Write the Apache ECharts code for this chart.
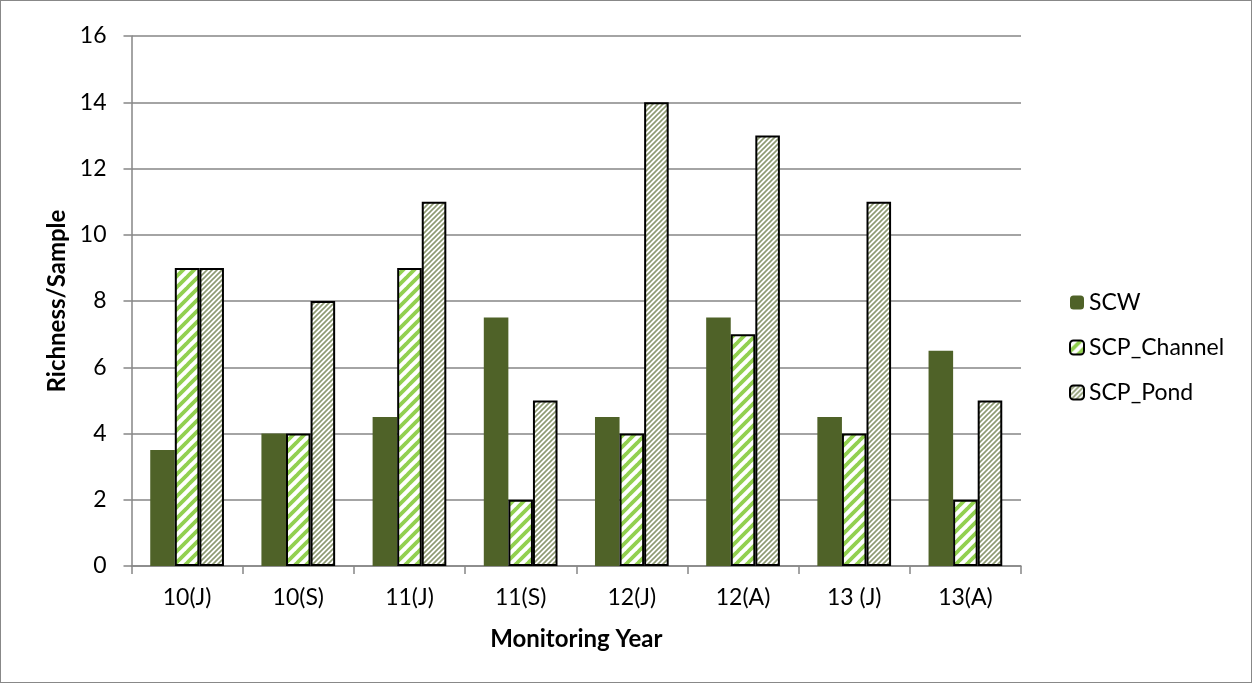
<!DOCTYPE html>
<html>
<head>
<meta charset="utf-8">
<script src="https://cdn.jsdelivr.net/npm/echarts@6/dist/echarts.min.js"></script>
<style>
  html, body { margin: 0; padding: 0; background: #fff; }
  #chart { width: 1250px; height: 681px; border: 1px solid #888; }
</style>
</head>
<body>
<div id="chart"></div>
<script>
// Monitoring events and species richness per sample for each site
const categories = ['10(J)', '10(S)', '11(J)', '11(S)', '12(J)', '12(A)', '13 (J)', '13(A)'];
const scw = [3.5, 4, 4.5, 7.5, 4.5, 7.5, 4.5, 6.5];
const scpChannel = [9, 4, 9, 2, 4, 7, 4, 2];
const scpPond = [9, 8, 11, 5, 14, 13, 11, 5];
const yTicks = { min: 0, max: 16, interval: 2 };

// Diagonal "/" stripe tile for hatched bar fills
function stripeTile(size, lineWidth, color) {
  const c = document.createElement('canvas');
  c.width = size; c.height = size;
  const ctx = c.getContext('2d');
  ctx.fillStyle = '#fff';
  ctx.fillRect(0, 0, size, size);
  ctx.strokeStyle = color;
  ctx.lineWidth = lineWidth;
  ctx.beginPath();
  for (let k = -1; k <= 1; k++) {
    ctx.moveTo(k * size - 1, size + 1);
    ctx.lineTo(k * size + size + 1, -1);
  }
  ctx.stroke();
  return c;
}

const channelFill = { image: stripeTile(11, 3.8, '#92D050'), repeat: 'repeat' };
const pondFill = { image: stripeTile(5, 1.6, '#8E9B72'), repeat: 'repeat' };

const font = 'Lato, "Open Sans", sans-serif';
const chart = echarts.init(document.getElementById('chart'), null, { renderer: 'canvas' });

chart.setOption({
  animation: false,
  textStyle: { fontFamily: font, color: '#000' },
  grid: { left: 130.5, right: 230, top: 35, bottom: 116 },
  legend: {
    orient: 'vertical',
    left: 1063,
    top: 285,
    itemWidth: 14,
    itemHeight: 14,
    itemGap: 22,
    textStyle: { fontSize: 23, fontFamily: font, color: '#000' },
    data: ['SCW', 'SCP_Channel', 'SCP_Pond']
  },
  xAxis: {
    type: 'category',
    data: categories,
    name: 'Monitoring Year',
    nameLocation: 'middle',
    nameGap: 61,
    nameTextStyle: { fontSize: 24, fontWeight: 'bold', fontFamily: font, color: '#000' },
    axisLine: { lineStyle: { color: '#868686', width: 1.5 } },
    axisTick: { show: true, length: 8, lineStyle: { color: '#868686', width: 1.5 } },
    axisLabel: { fontSize: 23, margin: 20, color: '#000', fontFamily: font }
  },
  yAxis: {
    type: 'value',
    min: yTicks.min,
    max: yTicks.max,
    interval: yTicks.interval,
    name: 'Richness/Sample',
    nameLocation: 'middle',
    nameGap: 62,
    nameTextStyle: { fontSize: 24, fontWeight: 'bold', fontFamily: font, color: '#000' },
    axisLine: { show: true, lineStyle: { color: '#868686', width: 1.5 } },
    axisTick: { show: true, length: 8, lineStyle: { color: '#868686', width: 1.5 } },
    splitLine: { lineStyle: { color: '#868686', width: 1.5 } },
    axisLabel: { fontSize: 23, margin: 25, color: '#000', fontFamily: font }
  },
  series: [
    {
      name: 'SCW', type: 'bar', data: scw,
      barGap: '0%', barCategoryGap: '33.7%',
      itemStyle: { color: '#4F6228' }
    },
    {
      name: 'SCP_Channel', type: 'bar', data: scpChannel,
      itemStyle: { color: channelFill, borderColor: '#000', borderWidth: 2 }
    },
    {
      name: 'SCP_Pond', type: 'bar', data: scpPond,
      itemStyle: { color: pondFill, borderColor: '#000', borderWidth: 2 }
    }
  ]
});
</script>
</body>
</html>
